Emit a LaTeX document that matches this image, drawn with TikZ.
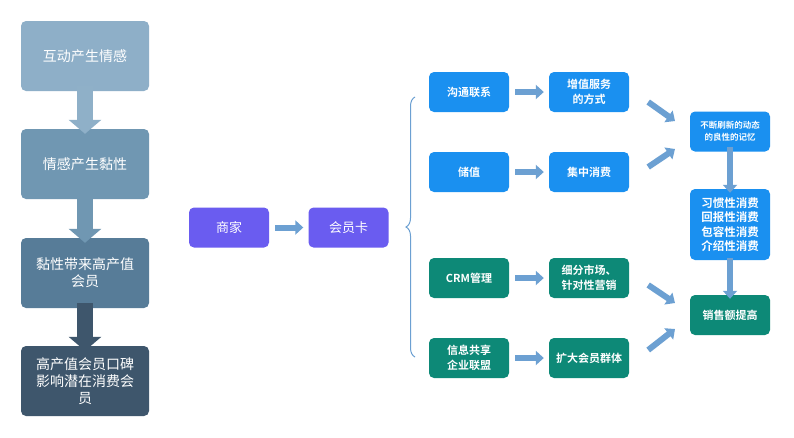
\documentclass[tikz,border=0pt]{standalone}
\usepackage{fontspec}
\newfontfamily\cjk{Noto Sans CJK SC}
\newfontfamily\cjkb{Noto Sans CJK SC Bold}
\usetikzlibrary{arrows.meta,decorations.pathreplacing}
\definecolor{l1}{HTML}{8EAFC8}
\definecolor{l2}{HTML}{7097B2}
\definecolor{l3}{HTML}{577C98}
\definecolor{l4}{HTML}{3E566C}
\definecolor{pur}{HTML}{6A5CF0}
\definecolor{blu}{HTML}{1A90F0}
\definecolor{grn}{HTML}{0D8977}
\definecolor{arr}{HTML}{6CA0D2}
\definecolor{arrl}{HTML}{8FB0C8}
\begin{document}
\begin{tikzpicture}[x=1pt,y=-1pt,
 lbox/.style={rounded corners=5pt,minimum width=128pt,minimum height=70pt,text=white,align=center,text width=118pt,font=\cjk\fontsize{14pt}{17pt}\selectfont},
 rbox/.style={rounded corners=5pt,minimum width=80pt,minimum height=40pt,text=white,align=center,font=\cjkb\fontsize{11pt}{15pt}\selectfont},
 bigarr/.style={line width=16pt,-{Triangle[width=32pt,length=14pt]}},
 smarr/.style={arr,line width=6pt,-{Triangle[width=14pt,length=8pt]}}]
\useasboundingbox (0,0) rectangle (794,437);
\fill[white] (0,0) rectangle (794,437);
\node[lbox,fill=l1] (a1) at (85,56) {互动产生情感};
\node[lbox,fill=l2] (a2) at (85,164) {情感产生黏性};
\node[lbox,fill=l3] (a3) at (85,273) {黏性带来高产值\\会员};
\node[lbox,fill=l4] (a4) at (85,381) {高产值会员口碑\\影响潜在消费会\\员};
\draw[bigarr,arrl] ([yshift=5pt]a1.south) -- ([yshift=-5pt]a2.north);
\draw[bigarr,l2] ([yshift=5pt]a2.south) -- ([yshift=-5pt]a3.north);
\draw[bigarr,l4] ([yshift=5pt]a3.south) -- ([yshift=-5pt]a4.north);
\node[rbox,fill=pur,font=\cjk\fontsize{13pt}{15pt}\selectfont] (s) at (229,227.5) {商家};
\node[rbox,fill=pur,font=\cjk\fontsize{13pt}{15pt}\selectfont] (k) at (348.5,227.5) {会员卡};
\draw[smarr] ([xshift=6pt]s.east) -- ([xshift=-5pt]k.west);
\draw[arr,line width=1pt,decoration={brace,amplitude=9pt},decorate] (415,357) -- (415,97);
\node[rbox,fill=blu] (b1) at (469,92) {沟通联系};
\node[rbox,fill=blu] (b2) at (469,172) {储值};
\node[rbox,fill=grn] (b3) at (469,278) {CRM管理};
\node[rbox,fill=grn] (b4) at (469,358) {信息共享\\企业联盟};
\node[rbox,fill=blu] (c1) at (589,92) {增值服务\\的方式};
\node[rbox,fill=blu] (c2) at (589,172) {集中消费};
\node[rbox,fill=grn] (c3) at (589,278) {细分市场、\\针对性营销};
\node[rbox,fill=grn] (c4) at (589,358) {扩大会员群体};
\foreach \i in {1,...,4}{\draw[smarr] ([xshift=6pt]b\i.east) -- ([xshift=-5pt]c\i.west);}
\node[rbox,fill=blu,font=\cjkb\fontsize{8.5pt}{12pt}\selectfont] (d1) at (730,131.5) {不断刷新的动态\\的良性的记忆};
\node[rbox,fill=blu,minimum height=71pt,font=\cjkb\fontsize{11.5pt}{14.5pt}\selectfont] (d2) at (730,224.5) {习惯性消费\\回报性消费\\包容性消费\\介绍性消费};
\node[rbox,fill=grn] (d3) at (730,315) {销售额提高};
\draw[smarr] ([yshift=5pt]d1.south) -- ([yshift=-4pt]d2.north);
\draw[smarr] ([yshift=2pt]d2.south) -- ([yshift=-4pt]d3.north);
\coordinate (e1) at (675,121); \coordinate (e2) at (675,149);
\coordinate (e3) at (675,303); \coordinate (e4) at (675,329);
\draw[smarr] ([shift={(19,10)}]c1.east) -- (e1);
\draw[smarr] ([shift={(19,-5)}]c2.east) -- (e2);
\draw[smarr] ([shift={(19,7)}]c3.east) -- (e3);
\draw[smarr] ([shift={(19,-8)}]c4.east) -- (e4);
\end{tikzpicture}
\end{document}
